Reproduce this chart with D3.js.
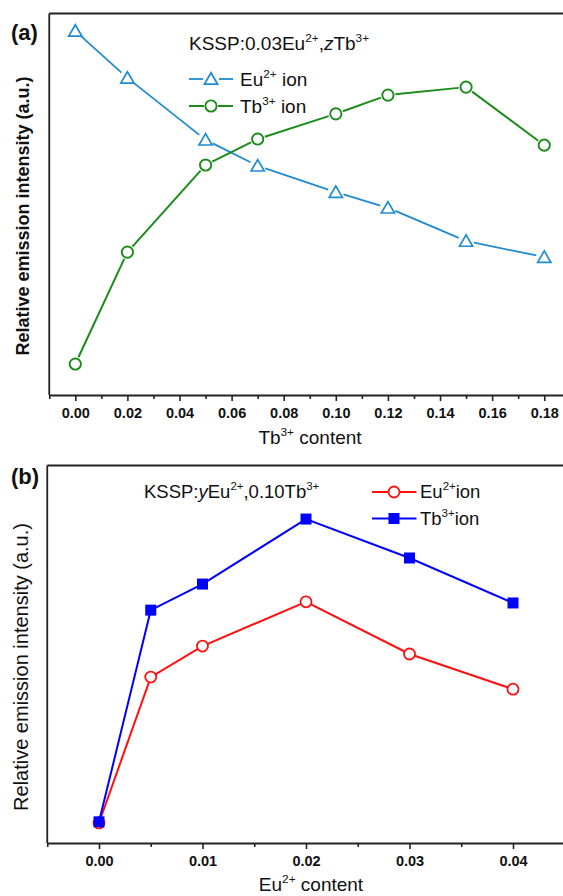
<!DOCTYPE html>
<html><head><meta charset="utf-8">
<script src="https://cdn.jsdelivr.net/npm/d3@7/dist/d3.min.js"></script>
<style>body{margin:0;background:#fff}svg{display:block}text{font-family:"Liberation Sans",Arial,sans-serif}</style>
</head><body><svg id="c" width="563" height="896"></svg>
<script>
// Panel (a) data
const tbContentA = [0.00, 0.02, 0.05, 0.07, 0.10, 0.12, 0.15, 0.18];
const euIonA = [95.3, 83.0, 66.8, 60.0, 53.1, 49.0, 40.3, 36.1];
const tbIonA = [8.1, 37.4, 60.2, 67.0, 73.6, 78.5, 80.6, 65.4];
const xTicksA = [0.00, 0.02, 0.04, 0.06, 0.08, 0.10, 0.12, 0.14, 0.16, 0.18];
const xMinorA = [-0.01, 0.01, 0.03, 0.05, 0.07, 0.09, 0.11, 0.13, 0.15, 0.17, 0.19];
// Panel (b) data
const euContentB = [0.000, 0.005, 0.010, 0.020, 0.030, 0.040];
const euIonB = [5.3, 43.9, 52.1, 63.8, 50.0, 40.7];
const tbIonB = [5.6, 61.6, 68.5, 85.7, 75.4, 63.5];
const xTicksB = [0.00, 0.01, 0.02, 0.03, 0.04];
const xMinorB = [-0.005, 0.005, 0.015, 0.025, 0.035, 0.045];

const svg = d3.select("#c");
const F = '"Liberation Sans",Arial,sans-serif';

function richText(g, x, y, parts, opts) {
  const t = g.append("text").attr("x", x).attr("y", y)
    .attr("font-size", opts.size).attr("font-weight", opts.weight || "normal")
    .attr("fill", "#111");
  if (opts.anchor) t.attr("text-anchor", opts.anchor);
  if (opts.transform) t.attr("transform", opts.transform);
  let prevSup = false;
  parts.forEach(p => {
    const s = t.append("tspan").text(p.t);
    if (p.sup) { s.attr("font-size", opts.size * 0.62).attr("dy", prevSup ? 0 : -opts.size * 0.42); }
    else if (prevSup) { s.attr("dy", opts.size * 0.42); }
    if (p.it) s.attr("font-style", "italic");
    prevSup = !!p.sup;
  });
  return t;
}

function frame(g, x, yTop, yBot) {
  g.append("line").attr("x1", x).attr("x2", 600).attr("y1", yTop).attr("y2", yTop)
    .attr("stroke", "#222").attr("stroke-width", 1.8);
  g.append("line").attr("x1", x).attr("x2", x).attr("y1", yTop).attr("y2", yBot)
    .attr("stroke", "#222").attr("stroke-width", 1.8);
}

function xAxis(g, x, yPos, majors, minors, fmt) {
  const ax = g.append("g").attr("transform", `translate(0,${yPos})`)
    .call(d3.axisBottom(x).tickValues(majors).tickSize(6).tickSizeOuter(0).tickFormat(d3.format(fmt)).tickPadding(7));
  ax.select(".domain").attr("stroke", "#222").attr("stroke-width", 1.8);
  ax.selectAll(".tick line").attr("stroke", "#222").attr("stroke-width", 1.6);
  ax.selectAll(".tick text").attr("font-family", F).attr("font-size", 14.5).attr("font-weight", "bold").attr("fill", "#111");
  const mn = g.append("g").attr("transform", `translate(0,${yPos})`)
    .call(d3.axisBottom(x).tickValues(minors).tickSize(4).tickSizeOuter(0).tickFormat(""));
  mn.select(".domain").remove();
  mn.selectAll(".tick line").attr("stroke", "#222").attr("stroke-width", 1.6);
}

// gapped segments
function gappedSegments(g, pts, gap, color, width) {
  for (let i = 0; i < pts.length - 1; i++) {
    const [x1, y1] = pts[i], [x2, y2] = pts[i + 1];
    const dx = x2 - x1, dy = y2 - y1, L = Math.hypot(dx, dy);
    const ux = dx / L, uy = dy / L;
    g.append("line").attr("x1", x1 + ux * gap).attr("y1", y1 + uy * gap)
      .attr("x2", x2 - ux * gap).attr("y2", y2 - uy * gap)
      .attr("stroke", color).attr("stroke-width", width);
  }
}
const triPath = "M0,-6.2L6.6,5.2L-6.6,5.2Z";

// ---------- Panel (a) ----------
const gA = svg.append("g");
const xA = d3.scaleLinear().domain([-0.01, 0.19]).range([49.25, 570.3]);
const yA = d3.scaleLinear().domain([0, 100]).range([395, 13]);
const blueA = "#1f8bd0", greenA = "#1b8c1b";
frame(gA, 49.25, 13.5, 395);
xAxis(gA, xA, 395, xTicksA, xMinorA, ".2f");

const ptsEu = tbContentA.map((d, i) => [xA(d), yA(euIonA[i])]);
const ptsTb = tbContentA.map((d, i) => [xA(d), yA(tbIonA[i])]);
gappedSegments(gA, ptsEu, 8, blueA, 1.8);
gappedSegments(gA, ptsTb, 7.5, greenA, 2);
gA.selectAll(".tri").data(ptsEu).enter().append("path").attr("d", triPath)
  .attr("transform", d => `translate(${d[0]},${d[1]})`)
  .attr("fill", "none").attr("stroke", blueA).attr("stroke-width", 1.7);
gA.selectAll(".cir").data(ptsTb).enter().append("circle")
  .attr("cx", d => d[0]).attr("cy", d => d[1]).attr("r", 5.6)
  .attr("fill", "#fff").attr("stroke", greenA).attr("stroke-width", 1.9);

richText(gA, 11, 40, [{t: "(a)"}], {size: 22, weight: "bold"});
richText(gA, 189, 50, [{t: "KSSP:0.03Eu"}, {t: "2+", sup: true}, {t: ","}, {t: "z", it: true}, {t: "Tb"}, {t: "3+", sup: true}], {size: 19});
// legend a
gA.append("line").attr("x1", 189).attr("x2", 203).attr("y1", 79).attr("y2", 79).attr("stroke", blueA).attr("stroke-width", 1.8);
gA.append("line").attr("x1", 219).attr("x2", 233).attr("y1", 79).attr("y2", 79).attr("stroke", blueA).attr("stroke-width", 1.8);
gA.append("path").attr("d", triPath).attr("transform", "translate(211,79)").attr("fill", "none").attr("stroke", blueA).attr("stroke-width", 1.7);
gA.append("line").attr("x1", 189).attr("x2", 204).attr("y1", 106).attr("y2", 106).attr("stroke", greenA).attr("stroke-width", 2);
gA.append("line").attr("x1", 218).attr("x2", 233).attr("y1", 106).attr("y2", 106).attr("stroke", greenA).attr("stroke-width", 2);
gA.append("circle").attr("cx", 211).attr("cy", 106).attr("r", 5.6).attr("fill", "#fff").attr("stroke", greenA).attr("stroke-width", 1.9);
richText(gA, 240, 86, [{t: "Eu"}, {t: "2+", sup: true}, {t: " ion"}], {size: 19});
richText(gA, 240, 113, [{t: "Tb"}, {t: "3+", sup: true}, {t: " ion"}], {size: 19});
richText(gA, 310, 444, [{t: "Tb"}, {t: "3+", sup: true}, {t: " content"}], {size: 19, anchor: "middle"});
richText(gA, 0, 0, [{t: "Relative emission intensity (a.u.)"}], {size: 18, weight: "bold", anchor: "middle", transform: "translate(29,216) rotate(-90)"});

// ---------- Panel (b) ----------
const gB = svg.append("g");
const xB = d3.scaleLinear().domain([-0.005, 0.045]).range([47.25, 564.75]);
const yB = d3.scaleLinear().domain([0, 100]).range([843, 465]);
const redB = "#ff1010", blueB = "#0000ff";
frame(gB, 47.25, 465.5, 843);
xAxis(gB, xB, 843, xTicksB, xMinorB, ".2f");

const line = d3.line().x(d => d[0]).y(d => d[1]);
const ptsEuB = euContentB.map((d, i) => [xB(d), yB(euIonB[i])]);
const ptsTbB = euContentB.map((d, i) => [xB(d), yB(tbIonB[i])]);
gB.append("path").attr("d", line(ptsEuB)).attr("fill", "none").attr("stroke", redB).attr("stroke-width", 2);
gB.selectAll(".cb").data(ptsEuB).enter().append("circle")
  .attr("cx", d => d[0]).attr("cy", d => d[1]).attr("r", 5.5)
  .attr("fill", "#fff").attr("stroke", redB).attr("stroke-width", 1.8);
gB.append("path").attr("d", line(ptsTbB)).attr("fill", "none").attr("stroke", blueB).attr("stroke-width", 2);
gB.selectAll(".sb").data(ptsTbB).enter().append("rect")
  .attr("x", d => d[0] - 5.5).attr("y", d => d[1] - 5.5).attr("width", 11).attr("height", 11)
  .attr("fill", blueB);

richText(gB, 11, 484, [{t: "(b)"}], {size: 22, weight: "bold"});
richText(gB, 144, 498, [{t: "KSSP:"}, {t: "y", it: true}, {t: "Eu"}, {t: "2+", sup: true}, {t: ",0.10Tb"}, {t: "3+", sup: true}], {size: 18.5});
// legend b
gB.append("line").attr("x1", 372).attr("x2", 416.5).attr("y1", 492).attr("y2", 492).attr("stroke", redB).attr("stroke-width", 2);
gB.append("circle").attr("cx", 394).attr("cy", 492).attr("r", 5.5).attr("fill", "#fff").attr("stroke", redB).attr("stroke-width", 1.8);
gB.append("line").attr("x1", 372).attr("x2", 416.5).attr("y1", 518.5).attr("y2", 518.5).attr("stroke", blueB).attr("stroke-width", 2);
gB.append("rect").attr("x", 388.5).attr("y", 513).attr("width", 11).attr("height", 11).attr("fill", blueB);
richText(gB, 420, 498, [{t: "Eu"}, {t: "2+", sup: true}, {t: "ion"}], {size: 18.5});
richText(gB, 420, 525, [{t: "Tb"}, {t: "3+", sup: true}, {t: "ion"}], {size: 18.5});
richText(gB, 311, 891, [{t: "Eu"}, {t: "2+", sup: true}, {t: " content"}], {size: 19, anchor: "middle"});
richText(gB, 0, 0, [{t: "Relative emission intensity (a.u.)"}], {size: 20, anchor: "middle", transform: "translate(28,667) rotate(-90)"});
</script></body></html>
